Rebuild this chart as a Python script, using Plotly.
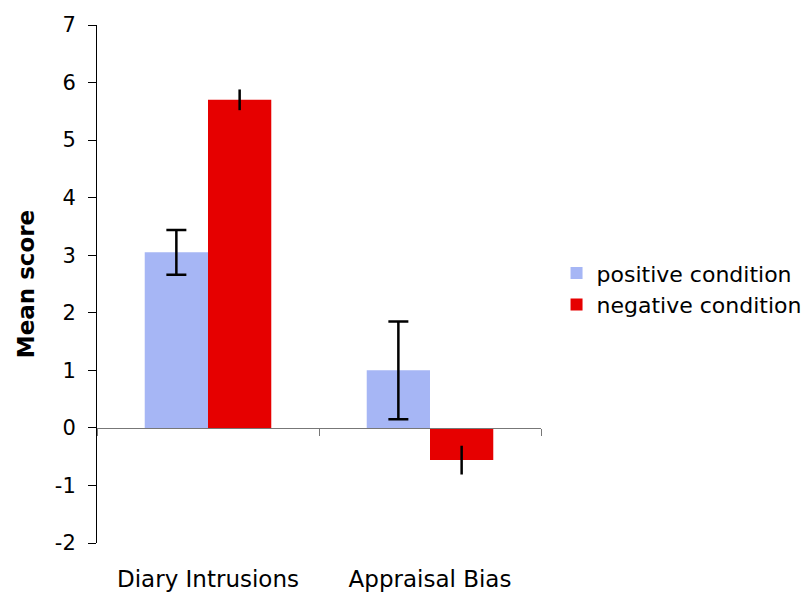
import plotly.graph_objects as go

categories = ["Diary Intrusions", "Appraisal Bias"]
positive_values = [3.05, 1.0]
positive_err = [0.39, 0.85]
negative_values = [5.70, -0.56]
negative_err = [0.18, 0.25]
series_names = ["positive condition", "negative condition"]
y_ticks = [-2, -1, 0, 1, 2, 3, 4, 5, 6, 7]
y_tick_text = ["-2", "-1", "0", "1", "2", "3", "4", "5", "6", "7"]

FONT = "DejaVu Sans, Verdana, sans-serif"

fig = go.Figure()
fig.add_trace(go.Bar(
    x=categories, y=positive_values, name=series_names[0],
    marker=dict(color="#a6b6f5", line=dict(width=0)),
    error_y=dict(type="data", array=positive_err, color="black", thickness=2.5, width=10),
))
fig.add_trace(go.Bar(
    x=categories, y=negative_values, name=series_names[1],
    marker=dict(color="#e60000", line=dict(width=0)),
    error_y=dict(type="data", array=negative_err, color="black", thickness=2.5, width=0),
))

fig.update_layout(
    width=805, height=592,
    margin=dict(l=97, r=264, t=25, b=49, autoexpand=False),
    paper_bgcolor="white", plot_bgcolor="white",
    barmode="group", bargap=0.43, bargroupgap=0,
    font=dict(family=FONT, size=22, color="black"),
    showlegend=True,
    legend=dict(x=1.035, y=0.49, xanchor="left", yanchor="middle",
                font=dict(size=22), tracegroupgap=0, itemwidth=30),
    xaxis=dict(
        type="category", anchor="free", position=2/9, automargin=False,
        showline=True, linecolor="#777", linewidth=1,
        ticks="outside", tickson="boundaries", ticklen=7, tickcolor="#777",
        ticklabelstandoff=131, showgrid=False, zeroline=False,
        tickfont=dict(size=23),
    ),
    yaxis=dict(
        range=[-2, 7], tickvals=y_ticks, ticktext=y_tick_text, automargin=False,
        showline=True, linecolor="black", linewidth=1,
        ticks="outside", ticklen=8, tickcolor="black", showgrid=False, zeroline=False,
        tickfont=dict(size=21), ticklabelstandoff=8,
        title=dict(text="<b>Mean score</b>", font=dict(size=23), standoff=13),
    ),
)

fig.write_html("out.html")
